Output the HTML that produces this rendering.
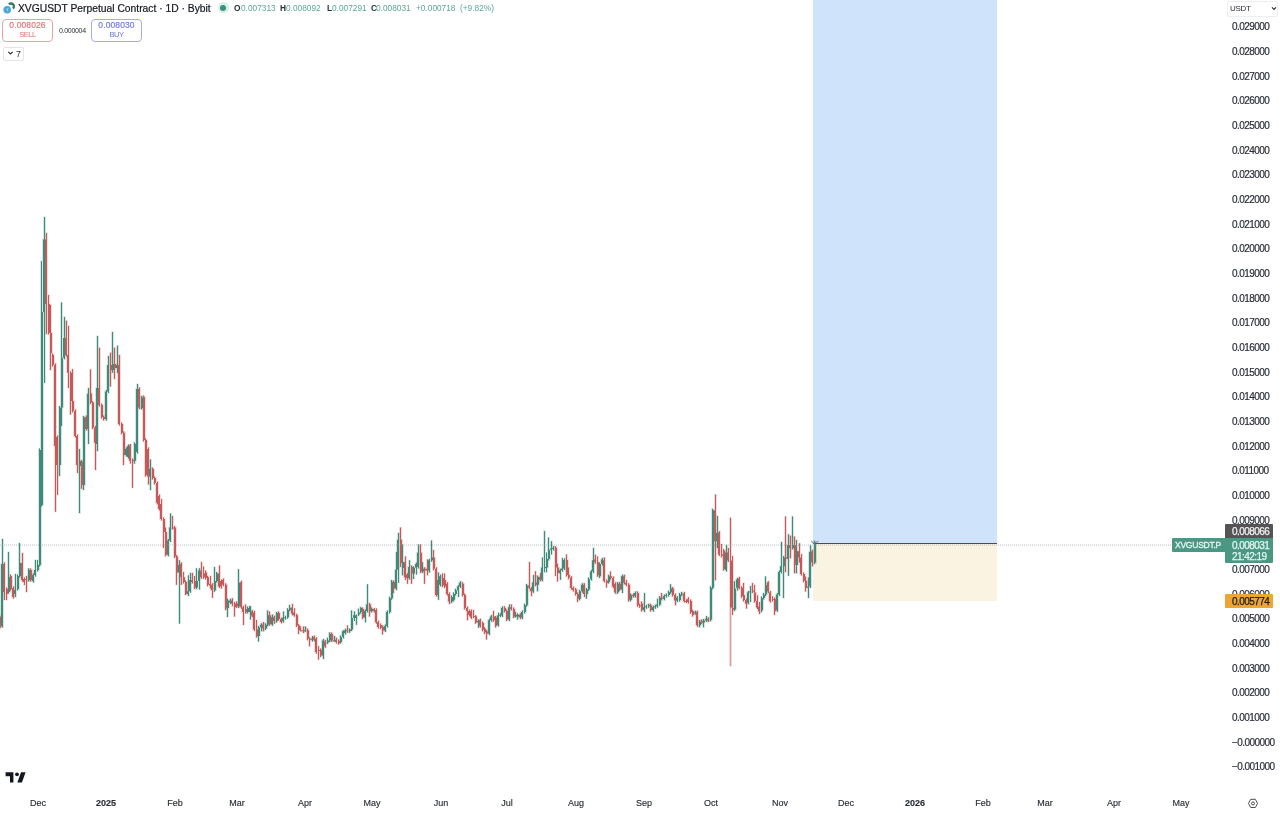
<!DOCTYPE html><html><head><meta charset="utf-8"><style>
*{margin:0;padding:0;box-sizing:border-box}
html,body{width:1280px;height:813px;overflow:hidden;background:#fff}
body{font-family:"Liberation Sans",sans-serif;position:relative;color:#131722}
.a{position:absolute;white-space:nowrap;will-change:transform}
.pl{position:absolute;will-change:transform;left:1231.5px;font-size:10px;letter-spacing:-0.55px;color:#2a2e39;line-height:10px;-webkit-text-stroke:0.2px #2a2e39}
.tl{position:absolute;will-change:transform;top:797.5px;font-size:9px;color:#2a2e39;line-height:10px;transform:translateX(-50%);-webkit-text-stroke:0.15px #2a2e39}
svg{position:absolute;left:0;top:0}
.cs{}
</style></head><body>
<div class="a" style="left:813px;top:0;width:184px;height:543px;background:#cfe3fa"></div>
<div class="a" style="left:813px;top:543px;width:184px;height:58px;background:#fbf3e2"></div>
<div class="a" style="left:813px;top:543px;width:184px;height:1px;background:#4a4d57"></div>
<svg class="cs" width="1224" height="790" viewBox="0 0 1224 790"><path fill="#3f8a79" fill-opacity="0.22" d="M0 563.20h4v63.60h-4zM1 538.50h3v89.50h-3zM7 576.20h4v16.60h-4zM7 551.50h3v42.50h-3zM13 589.20h4v5.60h-4zM14 573.50h3v24.00h-3zM16 575.20h4v14.60h-4zM16 574.00h3v17.00h-3zM18 562.20h4v14.60h-4zM18 542.50h3v35.50h-3zM27 569.20h4v11.60h-4zM27 568.00h3v14.00h-3zM31 574.20h4v7.60h-4zM32 573.00h3v10.00h-3zM33 569.20h4v6.60h-4zM34 559.50h3v17.50h-3zM36 564.20h4v6.60h-4zM36 559.50h3v12.50h-3zM38 449.20h4v116.60h-4zM38 448.00h3v119.00h-3zM40 311.20h4v194.60h-4zM40 260.50h3v246.50h-3zM42 238.70h4v74.10h-4zM43 216.50h3v167.00h-3zM58 406.80h4v59.00h-4zM58 405.60h3v70.90h-3zM60 356.90h4v51.50h-4zM60 302.00h3v124.50h-3zM62 337.20h4v21.30h-4zM63 316.50h3v43.20h-3zM78 460.20h4v6.60h-4zM78 448.50h3v65.00h-3zM82 416.80h4v69.00h-4zM82 415.60h3v74.90h-3zM86 393.00h4v36.80h-4zM87 387.50h3v57.00h-3zM95 387.20h4v57.60h-4zM96 335.50h3v116.00h-3zM104 390.80h4v29.00h-4zM105 389.60h3v31.40h-3zM106 364.20h4v28.20h-4zM107 355.50h3v38.10h-3zM111 363.20h4v7.60h-4zM111 331.50h3v41.80h-3zM115 364.20h4v4.60h-4zM116 345.30h3v28.20h-3zM124 448.20h4v7.60h-4zM125 447.00h3v10.00h-3zM126 445.20h4v12.60h-4zM127 444.00h3v15.00h-3zM133 443.00h4v18.50h-4zM133 441.80h3v22.20h-3zM135 388.20h4v64.60h-4zM136 383.50h3v70.50h-3zM140 396.70h4v12.10h-4zM140 395.50h3v14.50h-3zM148 468.00h4v9.20h-4zM149 458.90h3v31.60h-3zM166 539.80h4v15.70h-4zM167 538.60h3v18.10h-3zM168 526.70h4v14.70h-4zM169 512.90h3v29.70h-3zM177 564.20h4v9.10h-4zM178 559.80h3v64.30h-3zM186 590.40h4v4.40h-4zM187 574.80h3v21.70h-3zM188 579.20h4v12.80h-4zM189 572.50h3v20.70h-3zM195 580.20h4v8.10h-4zM195 567.80h3v21.70h-3zM197 569.80h4v12.00h-4zM198 567.80h3v22.10h-3zM213 580.20h4v10.90h-4zM213 566.40h3v25.90h-3zM215 572.60h4v9.20h-4zM215 571.40h3v11.60h-3zM226 599.80h4v9.10h-4zM226 598.20h3v19.30h-3zM228 599.80h4v3.50h-4zM229 598.20h3v6.30h-3zM237 582.00h4v25.00h-4zM237 568.70h3v39.80h-3zM246 607.30h4v5.40h-4zM246 606.10h3v7.80h-3zM248 605.40h4v7.30h-4zM249 605.70h3v14.20h-3zM257 626.70h4v10.00h-4zM257 625.50h3v16.50h-3zM259 623.90h4v4.40h-4zM260 622.70h3v9.00h-3zM264 623.90h4v5.30h-4zM264 622.70h3v7.70h-3zM266 614.50h4v11.00h-4zM266 610.10h3v16.60h-3zM270 616.40h4v8.60h-4zM271 613.90h3v12.30h-3zM275 612.20h4v9.50h-4zM275 611.50h3v11.40h-3zM281 617.30h4v4.50h-4zM282 611.10h3v11.90h-3zM283 616.40h4v2.60h-4zM284 615.20h3v4.90h-3zM286 608.90h4v9.10h-4zM286 607.80h3v11.40h-3zM288 607.00h4v3.50h-4zM288 604.50h3v7.20h-3zM303 629.50h4v2.60h-4zM304 626.10h3v6.40h-3zM310 637.90h4v2.60h-4zM311 635.40h3v6.60h-3zM321 639.80h4v16.60h-4zM322 638.60h3v20.80h-3zM326 639.80h4v3.50h-4zM326 637.30h3v7.20h-3zM328 633.20h4v8.20h-4zM328 632.00h3v10.60h-3zM332 639.50h4v2.60h-4zM333 635.50h3v6.50h-3zM339 636.10h4v6.70h-4zM339 634.90h3v9.10h-3zM341 630.40h4v7.30h-4zM342 629.80h3v9.10h-3zM343 629.50h4v4.30h-4zM344 628.30h3v6.70h-3zM348 628.60h4v3.40h-4zM348 627.90h3v5.30h-3zM350 617.30h4v12.90h-4zM350 610.10h3v21.30h-3zM352 614.50h4v4.40h-4zM353 611.10h3v10.40h-3zM354 614.50h4v4.40h-4zM355 613.90h3v11.30h-3zM357 611.70h4v3.50h-4zM357 608.20h3v8.20h-3zM359 607.30h4v5.40h-4zM359 606.40h3v7.50h-3zM363 610.20h4v8.10h-4zM364 609.00h3v13.70h-3zM365 603.60h4v8.20h-4zM366 583.70h3v29.30h-3zM370 608.20h4v3.60h-4zM370 607.00h3v6.00h-3zM383 625.10h4v6.30h-4zM384 623.90h3v8.70h-3zM385 611.10h4v15.60h-4zM386 609.90h3v18.00h-3zM388 597.50h4v15.20h-4zM388 596.30h3v17.60h-3zM390 581.10h4v18.00h-4zM390 579.50h3v20.70h-3zM394 568.90h4v20.30h-4zM395 551.40h3v39.00h-3zM396 538.90h4v31.60h-4zM397 532.60h3v50.70h-3zM401 561.20h4v7.60h-4zM401 543.90h3v31.90h-3zM407 566.10h4v12.80h-4zM408 559.80h3v20.30h-3zM412 567.00h4v7.20h-4zM412 565.80h3v13.70h-3zM414 563.20h4v5.40h-4zM415 562.00h3v12.90h-3zM416 552.00h4v15.70h-4zM417 543.90h3v25.00h-3zM421 567.90h4v4.40h-4zM421 561.70h3v11.80h-3zM427 559.50h4v11.90h-4zM428 558.30h3v14.70h-3zM430 556.70h4v4.40h-4zM430 540.10h3v22.20h-3zM436 579.20h4v16.60h-4zM437 572.00h3v28.20h-3zM438 575.40h4v10.10h-4zM439 574.20h3v12.50h-3zM450 596.10h4v6.30h-4zM450 594.90h3v8.70h-3zM452 593.20h4v7.30h-4zM452 592.00h3v9.70h-3zM454 589.50h4v5.30h-4zM454 588.30h3v7.70h-3zM456 585.80h4v5.30h-4zM457 584.60h3v12.80h-3zM458 582.00h4v5.40h-4zM459 580.80h3v7.80h-3zM476 620.20h4v2.80h-4zM477 618.90h3v9.40h-3zM487 619.50h4v14.70h-4zM488 618.30h3v17.10h-3zM489 615.80h4v5.30h-4zM490 614.60h3v7.70h-3zM496 614.80h4v11.00h-4zM497 612.30h3v14.70h-3zM498 613.90h4v2.60h-4zM499 612.70h3v4.90h-3zM500 607.30h4v9.10h-4zM501 606.10h3v11.50h-3zM507 606.40h4v13.80h-4zM508 603.90h3v17.50h-3zM514 613.90h4v3.50h-4zM514 611.40h3v6.60h-3zM516 613.90h4v3.50h-4zM516 612.70h3v7.20h-3zM520 611.10h4v7.20h-4zM521 609.90h3v9.60h-3zM523 604.50h4v8.20h-4zM523 603.30h3v10.60h-3zM525 584.80h4v21.30h-4zM525 583.60h3v23.70h-3zM531 581.70h4v10.30h-4zM532 574.50h3v18.70h-3zM536 576.10h4v9.50h-4zM536 574.90h3v16.80h-3zM540 566.70h4v13.80h-4zM541 557.10h3v24.60h-3zM543 566.20h4v2.60h-4zM543 530.40h3v42.30h-3zM545 558.20h4v10.10h-4zM545 552.00h3v20.70h-3zM547 548.90h4v10.90h-4zM547 537.00h3v24.00h-3zM549 547.70h4v2.80h-4zM550 540.70h3v14.20h-3zM551 547.00h4v2.80h-4zM552 545.50h3v5.50h-3zM558 569.50h4v4.40h-4zM559 568.30h3v11.90h-3zM560 567.60h4v3.50h-4zM561 557.60h3v14.70h-3zM562 559.20h4v10.00h-4zM563 558.00h3v12.40h-3zM578 590.40h4v9.10h-4zM578 589.20h3v11.50h-3zM580 583.90h4v8.10h-4zM581 582.70h3v10.50h-3zM585 588.60h4v6.20h-4zM585 587.40h3v11.80h-3zM587 578.20h4v12.00h-4zM587 577.00h3v14.40h-3zM589 570.80h4v9.00h-4zM590 569.60h3v11.40h-3zM591 559.50h4v12.90h-4zM592 547.50h3v26.10h-3zM598 563.20h4v13.80h-4zM598 562.00h3v16.60h-3zM600 558.60h4v6.20h-4zM601 557.40h3v8.60h-3zM607 575.40h4v7.30h-4zM607 574.20h3v9.70h-3zM616 582.90h4v10.10h-4zM616 581.70h3v12.50h-3zM620 575.40h4v14.80h-4zM621 574.20h3v19.30h-3zM629 594.20h4v6.30h-4zM629 593.00h3v8.70h-3zM633 592.30h4v4.40h-4zM634 591.10h3v6.80h-3zM642 606.40h4v4.40h-4zM643 592.60h3v19.80h-3zM644 605.40h4v2.60h-4zM645 604.20h3v5.00h-3zM647 604.50h4v2.60h-4zM647 603.30h3v4.90h-3zM651 606.40h4v4.40h-4zM652 605.20h3v6.80h-3zM653 605.40h4v2.60h-4zM654 604.20h3v5.00h-3zM655 603.60h4v3.40h-4zM656 598.20h3v10.00h-3zM658 597.00h4v8.20h-4zM658 595.80h3v10.60h-3zM662 595.10h4v4.40h-4zM663 593.90h3v6.80h-3zM664 594.20h4v2.60h-4zM665 593.00h3v4.90h-3zM667 591.40h4v4.40h-4zM667 590.20h3v6.80h-3zM669 587.60h4v5.40h-4zM669 583.70h3v10.50h-3zM675 597.00h4v4.40h-4zM676 595.80h3v6.80h-3zM678 593.60h4v7.20h-4zM678 592.40h3v9.60h-3zM680 592.60h4v2.60h-4zM680 591.40h3v5.00h-3zM693 611.40h4v2.60h-4zM694 610.20h3v4.90h-3zM698 620.70h4v5.40h-4zM698 619.50h3v8.20h-3zM702 619.80h4v3.50h-4zM702 618.60h3v9.10h-3zM704 617.90h4v3.50h-4zM705 615.50h3v7.10h-3zM709 587.00h4v33.50h-4zM709 585.80h3v35.90h-3zM711 509.50h4v79.10h-4zM711 508.30h3v81.50h-3zM715 532.00h4v10.00h-4zM716 515.50h3v33.00h-3zM724 551.70h4v19.10h-4zM725 544.50h3v27.50h-3zM733 587.90h4v22.30h-4zM733 580.70h3v30.70h-3zM735 578.60h4v10.00h-4zM736 577.40h3v13.70h-3zM746 591.70h4v11.90h-4zM747 590.50h3v14.30h-3zM748 590.80h4v2.60h-4zM749 585.40h3v17.00h-3zM760 597.30h4v13.80h-4zM760 596.10h3v16.60h-3zM762 593.60h4v5.30h-4zM762 592.40h3v7.70h-3zM764 584.20h4v11.00h-4zM764 576.10h3v20.30h-3zM775 593.60h4v17.50h-4zM776 592.40h3v19.90h-3zM777 571.10h4v24.10h-4zM778 569.90h3v26.50h-3zM779 565.40h4v7.30h-4zM780 541.50h3v32.40h-3zM782 556.70h4v10.30h-4zM782 555.50h3v43.10h-3zM786 544.20h4v15.40h-4zM787 533.70h3v42.50h-3zM791 544.20h4v4.70h-4zM791 516.10h3v34.00h-3zM795 550.50h4v15.30h-4zM795 539.50h3v34.20h-3zM806 585.60h4v2.90h-4zM807 577.10h3v21.40h-3zM808 551.10h4v36.10h-4zM809 544.70h3v43.70h-3zM813 543.10h4v20.30h-4zM813 540.30h3v24.30h-3z"/><path fill="#c65a5a" fill-opacity="0.22" d="M-2 615.80h4v12.70h-4zM-2 614.60h3v14.90h-3zM2 563.20h4v29.60h-4zM3 562.00h3v38.50h-3zM5 588.20h4v6.60h-4zM5 587.00h3v13.50h-3zM9 575.20h4v14.60h-4zM9 574.00h3v17.00h-3zM11 587.20h4v10.60h-4zM12 586.00h3v13.00h-3zM20 562.20h4v18.60h-4zM21 552.50h3v29.50h-3zM22 578.20h4v4.60h-4zM23 577.00h3v8.50h-3zM24 578.20h4v2.60h-4zM25 575.50h3v17.00h-3zM29 569.20h4v11.60h-4zM29 568.00h3v14.00h-3zM44 238.70h4v66.10h-4zM45 232.50h3v102.00h-3zM47 303.20h4v30.60h-4zM47 294.50h3v40.50h-3zM49 332.20h4v21.60h-4zM49 304.50h3v66.00h-3zM51 354.20h4v11.60h-4zM51 353.00h3v14.00h-3zM53 364.20h4v82.60h-4zM54 363.00h3v149.20h-3zM55 436.20h4v29.60h-4zM56 435.00h3v60.50h-3zM64 337.20h4v18.60h-4zM65 320.20h3v36.80h-3zM66 354.20h4v19.40h-4zM67 325.50h3v63.00h-3zM69 372.00h4v29.80h-4zM69 370.80h3v44.20h-3zM71 400.20h4v11.60h-4zM71 368.50h3v44.50h-3zM73 410.20h4v26.60h-4zM74 409.00h3v29.00h-3zM75 435.20h4v30.60h-4zM76 434.00h3v39.50h-3zM80 460.70h4v25.10h-4zM80 459.50h3v29.70h-3zM84 416.20h4v13.60h-4zM85 415.00h3v16.00h-3zM89 392.70h4v10.60h-4zM89 369.10h3v35.40h-3zM91 401.70h4v26.70h-4zM91 400.50h3v29.10h-3zM93 426.80h4v16.70h-4zM94 425.60h3v44.90h-3zM97 387.20h4v18.60h-4zM98 347.20h3v59.80h-3zM100 404.20h4v13.60h-4zM100 403.00h3v16.00h-3zM102 416.20h4v3.60h-4zM102 415.00h3v6.00h-3zM109 364.20h4v6.60h-4zM109 352.20h3v34.90h-3zM113 363.20h4v5.60h-4zM113 347.20h3v32.30h-3zM117 364.20h4v60.60h-4zM118 354.50h3v71.50h-3zM120 423.20h4v10.30h-4zM120 422.00h3v12.70h-3zM122 431.90h4v23.90h-4zM122 430.70h3v34.80h-3zM128 444.80h4v16.70h-4zM129 443.60h3v20.40h-3zM131 459.20h4v2.60h-4zM131 458.00h3v30.20h-3zM137 388.20h4v20.20h-4zM138 387.00h3v22.60h-3zM142 396.20h4v44.60h-4zM142 395.00h3v47.00h-3zM144 439.20h4v36.60h-4zM144 438.00h3v39.00h-3zM146 448.20h4v29.00h-4zM147 447.00h3v38.00h-3zM151 468.20h4v10.60h-4zM151 467.00h3v13.00h-3zM153 477.20h4v6.60h-4zM153 476.00h3v9.00h-3zM155 482.20h4v21.40h-4zM156 481.00h3v23.80h-3zM157 495.20h4v14.60h-4zM158 494.00h3v17.00h-3zM159 503.20h4v16.60h-4zM160 498.50h3v22.50h-3zM162 518.20h4v14.60h-4zM162 517.00h3v31.50h-3zM164 531.20h4v24.30h-4zM164 527.00h3v29.70h-3zM171 526.70h4v2.60h-4zM171 515.50h3v14.50h-3zM173 526.70h4v30.70h-4zM173 525.50h3v33.10h-3zM175 555.80h4v17.50h-4zM175 554.60h3v30.60h-3zM179 563.20h4v14.80h-4zM180 562.00h3v23.20h-3zM182 576.40h4v6.40h-4zM182 571.50h3v12.50h-3zM184 581.20h4v13.60h-4zM184 580.00h3v15.50h-3zM190 579.20h4v3.60h-4zM191 572.50h3v11.50h-3zM193 580.20h4v8.10h-4zM193 575.50h3v14.00h-3zM199 569.80h4v8.20h-4zM200 561.50h3v17.70h-3zM202 572.60h4v5.40h-4zM202 565.90h3v13.30h-3zM204 571.70h4v7.10h-4zM204 570.10h3v9.90h-3zM206 576.40h4v9.10h-4zM206 575.20h3v11.50h-3zM208 582.90h4v3.50h-4zM209 575.50h3v13.50h-3zM210 583.90h4v7.20h-4zM211 582.70h3v15.60h-3zM217 572.60h4v14.70h-4zM218 565.00h3v23.50h-3zM219 580.20h4v7.10h-4zM220 579.00h3v10.00h-3zM221 579.20h4v6.30h-4zM222 578.00h3v8.70h-3zM224 583.90h4v25.50h-4zM224 582.70h3v27.90h-3zM230 599.80h4v4.40h-4zM231 597.80h3v8.90h-3zM233 602.60h4v5.40h-4zM233 601.40h3v15.60h-3zM235 602.60h4v4.40h-4zM235 601.00h3v7.20h-3zM239 581.50h4v26.50h-4zM240 580.30h3v28.90h-3zM241 606.40h4v6.30h-4zM242 605.20h3v20.30h-3zM244 608.20h4v4.50h-4zM244 603.90h3v10.00h-3zM250 610.60h4v5.80h-4zM251 609.40h3v8.20h-3zM252 611.70h4v18.50h-4zM253 610.50h3v20.90h-3zM255 628.60h4v8.10h-4zM255 619.50h3v18.40h-3zM261 623.90h4v5.30h-4zM262 621.40h3v10.30h-3zM268 614.50h4v10.50h-4zM268 611.10h3v15.10h-3zM272 616.40h4v5.30h-4zM273 615.20h3v9.00h-3zM277 612.20h4v7.60h-4zM277 611.00h3v10.00h-3zM279 618.20h4v4.50h-4zM280 617.00h3v6.80h-3zM290 607.00h4v7.20h-4zM291 603.50h3v12.30h-3zM292 611.70h4v4.40h-4zM293 607.80h3v9.50h-3zM295 614.50h4v11.90h-4zM295 613.30h3v14.30h-3zM297 624.80h4v6.30h-4zM297 623.60h3v10.90h-3zM299 629.50h4v2.60h-4zM299 626.10h3v5.60h-3zM301 629.50h4v2.60h-4zM302 626.10h3v7.50h-3zM306 629.50h4v10.00h-4zM306 627.90h3v12.80h-3zM308 637.90h4v2.60h-4zM308 636.70h3v10.00h-3zM312 636.10h4v4.40h-4zM313 634.90h3v6.80h-3zM314 637.90h4v14.80h-4zM315 636.70h3v17.50h-3zM317 649.20h4v2.60h-4zM317 645.70h3v14.20h-3zM319 649.20h4v7.20h-4zM319 648.00h3v9.60h-3zM323 640.70h4v6.30h-4zM324 639.50h3v8.70h-3zM330 633.20h4v8.20h-4zM330 632.00h3v10.60h-3zM334 638.90h4v3.90h-4zM335 637.30h3v6.70h-3zM337 640.20h4v3.60h-4zM337 639.00h3v6.00h-3zM345 629.50h4v2.60h-4zM346 625.10h3v8.10h-3zM361 608.20h4v10.10h-4zM361 607.00h3v12.50h-3zM368 603.60h4v8.20h-4zM368 602.40h3v14.60h-3zM372 608.20h4v3.60h-4zM373 607.50h3v5.50h-3zM374 609.20h4v13.80h-4zM375 608.00h3v16.20h-3zM376 621.40h4v6.30h-4zM377 620.20h3v8.70h-3zM379 624.20h4v4.40h-4zM379 623.00h3v6.80h-3zM381 626.10h4v5.30h-4zM381 624.90h3v10.00h-3zM392 581.10h4v8.10h-4zM392 579.90h3v13.60h-3zM399 538.90h4v25.00h-4zM399 527.00h3v40.40h-3zM403 561.40h4v16.60h-4zM404 556.10h3v24.40h-3zM405 573.60h4v5.30h-4zM406 572.40h3v11.80h-3zM410 566.10h4v8.10h-4zM410 564.90h3v19.30h-3zM419 552.00h4v20.30h-4zM419 543.90h3v29.60h-3zM423 567.90h4v3.50h-4zM423 566.70h3v17.50h-3zM425 567.90h4v3.50h-4zM426 558.90h3v16.90h-3zM432 556.70h4v12.80h-4zM432 549.50h3v21.20h-3zM434 567.90h4v27.90h-4zM435 566.70h3v30.30h-3zM441 577.30h4v9.10h-4zM441 572.90h3v14.70h-3zM443 579.20h4v8.10h-4zM443 572.90h3v15.60h-3zM445 582.90h4v11.90h-4zM446 581.70h3v14.30h-3zM447 593.20h4v9.20h-4zM448 592.00h3v12.50h-3zM461 582.90h4v12.90h-4zM461 581.70h3v15.30h-3zM463 594.20h4v14.70h-4zM463 593.00h3v17.10h-3zM465 607.30h4v4.50h-4zM466 606.10h3v14.70h-3zM467 610.20h4v5.30h-4zM468 609.00h3v7.70h-3zM469 610.20h4v8.10h-4zM470 609.00h3v10.50h-3zM472 615.20h4v2.60h-4zM472 609.50h3v9.00h-3zM474 615.80h4v7.20h-4zM474 614.60h3v9.60h-3zM478 619.50h4v7.30h-4zM479 618.30h3v9.70h-3zM481 622.30h4v8.20h-4zM481 621.10h3v10.60h-3zM483 627.90h4v5.40h-4zM483 626.70h3v7.80h-3zM485 630.70h4v3.50h-4zM485 629.50h3v10.50h-3zM492 615.80h4v5.30h-4zM492 610.50h3v11.80h-3zM494 616.70h4v10.10h-4zM494 615.50h3v12.50h-3zM503 607.30h4v4.50h-4zM503 605.70h3v7.30h-3zM505 610.20h4v10.00h-4zM505 609.00h3v12.40h-3zM509 606.40h4v3.40h-4zM510 603.90h3v7.10h-3zM512 608.20h4v9.20h-4zM512 607.00h3v11.60h-3zM518 613.90h4v4.40h-4zM519 612.70h3v6.80h-3zM527 584.80h4v3.50h-4zM528 561.40h3v28.10h-3zM529 587.60h4v4.40h-4zM530 586.40h3v10.10h-3zM534 581.70h4v3.90h-4zM534 570.70h3v16.10h-3zM538 576.10h4v4.40h-4zM539 572.50h3v9.20h-3zM554 547.00h4v21.30h-4zM554 545.80h3v30.70h-3zM556 566.70h4v7.20h-4zM556 563.20h3v18.80h-3zM565 559.20h4v16.60h-4zM565 553.90h3v23.10h-3zM567 574.20h4v4.40h-4zM567 567.00h3v12.80h-3zM569 577.00h4v11.90h-4zM570 575.80h3v14.30h-3zM571 587.30h4v3.50h-4zM572 586.10h3v5.90h-3zM574 588.60h4v6.20h-4zM574 587.40h3v8.60h-3zM576 593.20h4v6.30h-4zM576 592.00h3v10.50h-3zM582 583.90h4v10.90h-4zM583 582.70h3v14.70h-3zM593 558.60h4v4.40h-4zM594 554.20h3v10.00h-3zM596 561.40h4v14.70h-4zM596 556.10h3v21.20h-3zM602 559.50h4v22.30h-4zM603 557.00h3v26.00h-3zM605 580.20h4v3.40h-4zM605 579.00h3v9.00h-3zM609 575.40h4v3.50h-4zM609 571.10h3v9.00h-3zM611 577.30h4v10.10h-4zM612 576.10h3v12.50h-3zM613 582.90h4v10.10h-4zM614 581.70h3v12.50h-3zM618 582.90h4v7.30h-4zM618 581.40h3v10.00h-3zM622 575.40h4v8.20h-4zM623 574.20h3v10.60h-3zM624 582.00h4v3.50h-4zM625 579.50h3v7.20h-3zM627 583.90h4v16.60h-4zM627 582.70h3v19.30h-3zM631 594.20h4v2.60h-4zM632 593.00h3v4.90h-3zM636 592.30h4v13.80h-4zM636 591.10h3v16.20h-3zM638 604.50h4v2.60h-4zM638 603.30h3v4.90h-3zM640 602.60h4v8.20h-4zM640 601.00h3v11.00h-3zM649 604.50h4v6.30h-4zM649 603.30h3v8.70h-3zM660 597.00h4v2.60h-4zM660 592.60h3v8.10h-3zM671 587.60h4v8.20h-4zM671 586.40h3v10.60h-3zM673 594.20h4v7.20h-4zM674 593.00h3v12.80h-3zM682 592.60h4v9.10h-4zM683 591.40h3v11.50h-3zM684 600.10h4v2.60h-4zM685 598.90h3v4.50h-3zM686 598.20h4v4.50h-4zM687 596.70h3v7.20h-3zM689 600.20h4v12.80h-4zM689 599.00h3v15.20h-3zM691 610.40h4v5.40h-4zM691 609.20h3v7.80h-3zM695 611.40h4v14.70h-4zM696 610.20h3v17.10h-3zM700 620.20h4v3.10h-4zM700 619.00h3v5.50h-3zM706 617.90h4v3.50h-4zM707 616.70h3v5.90h-3zM713 509.50h4v32.50h-4zM714 493.90h3v86.90h-3zM717 532.00h4v23.20h-4zM718 530.80h3v25.60h-3zM720 553.60h4v3.20h-4zM720 543.50h3v14.50h-3zM722 549.80h4v20.00h-4zM722 548.60h3v22.40h-3zM726 551.70h4v9.70h-4zM727 547.50h3v15.10h-3zM729 559.80h4v48.50h-4zM729 517.30h3v149.10h-3zM731 607.20h4v3.00h-4zM731 555.50h3v60.00h-3zM737 577.60h4v11.00h-4zM738 576.40h3v13.40h-3zM740 587.00h4v10.00h-4zM740 585.80h3v12.40h-3zM742 594.50h4v6.30h-4zM742 582.60h3v19.40h-3zM744 599.20h4v5.30h-4zM745 598.00h3v10.90h-3zM751 589.80h4v2.60h-4zM751 582.60h3v11.00h-3zM753 591.70h4v10.00h-4zM753 584.50h3v18.40h-3zM755 600.10h4v8.20h-4zM756 594.80h3v14.70h-3zM757 605.70h4v6.30h-4zM758 601.40h3v13.10h-3zM766 581.40h4v11.00h-4zM767 580.70h3v12.90h-3zM768 591.70h4v10.00h-4zM769 590.50h3v12.40h-3zM771 598.20h4v2.60h-4zM771 595.70h3v6.30h-3zM773 598.20h4v13.80h-4zM773 597.00h3v18.50h-3zM784 556.70h4v2.90h-4zM784 516.10h3v56.40h-3zM788 544.20h4v4.70h-4zM789 535.20h3v23.50h-3zM793 544.20h4v21.60h-4zM793 535.90h3v37.80h-3zM797 550.50h4v7.80h-4zM798 542.80h3v20.30h-3zM799 556.70h4v18.00h-4zM800 553.50h3v22.40h-3zM802 573.10h4v8.50h-4zM802 571.90h3v10.90h-3zM804 580.00h4v8.50h-4zM804 575.90h3v16.00h-3zM810 550.50h4v12.90h-4zM811 549.30h3v17.50h-3z"/><path fill="#3f8a79" d="M2 539.00h1v88.50h-1zM8 552.00h1v41.50h-1zM15 574.00h1v23.00h-1zM17 574.50h1v16.00h-1zM19 543.00h1v34.50h-1zM28 568.50h1v13.00h-1zM33 573.50h1v9.00h-1zM35 560.00h1v16.50h-1zM37 560.00h1v11.50h-1zM39 448.50h1v118.00h-1zM41 261.00h1v245.50h-1zM44 217.00h1v166.00h-1zM59 406.10h1v69.90h-1zM61 302.50h1v123.50h-1zM64 317.00h1v42.20h-1zM79 449.00h1v64.00h-1zM83 416.10h1v73.90h-1zM88 388.00h1v56.00h-1zM97 336.00h1v115.00h-1zM106 390.10h1v30.40h-1zM108 356.00h1v37.10h-1zM112 332.00h1v40.80h-1zM117 345.80h1v27.20h-1zM126 447.50h1v9.00h-1zM128 444.50h1v14.00h-1zM134 442.30h1v21.20h-1zM137 384.00h1v69.50h-1zM141 396.00h1v13.50h-1zM150 459.40h1v30.60h-1zM168 539.10h1v17.10h-1zM170 513.40h1v28.70h-1zM179 560.30h1v63.30h-1zM188 575.30h1v20.70h-1zM190 573.00h1v19.70h-1zM196 568.30h1v20.70h-1zM199 568.30h1v21.10h-1zM214 566.90h1v24.90h-1zM216 571.90h1v10.60h-1zM227 598.70h1v18.30h-1zM230 598.70h1v5.30h-1zM238 569.20h1v38.80h-1zM247 606.60h1v6.80h-1zM250 606.20h1v13.20h-1zM258 626.00h1v15.50h-1zM261 623.20h1v8.00h-1zM265 623.20h1v6.70h-1zM267 610.60h1v15.60h-1zM272 614.40h1v11.30h-1zM276 612.00h1v10.40h-1zM283 611.60h1v10.90h-1zM285 615.70h1v3.90h-1zM287 608.30h1v10.40h-1zM289 605.00h1v6.20h-1zM305 626.60h1v5.40h-1zM312 635.90h1v5.60h-1zM323 639.10h1v19.80h-1zM327 637.80h1v6.20h-1zM329 632.50h1v9.60h-1zM334 636.00h1v5.50h-1zM340 635.40h1v8.10h-1zM343 630.30h1v8.10h-1zM345 628.80h1v5.70h-1zM349 628.40h1v4.30h-1zM351 610.60h1v20.30h-1zM354 611.60h1v9.40h-1zM356 614.40h1v10.30h-1zM358 608.70h1v7.20h-1zM360 606.90h1v6.50h-1zM365 609.50h1v12.70h-1zM367 584.20h1v28.30h-1zM371 607.50h1v5.00h-1zM385 624.40h1v7.70h-1zM387 610.40h1v17.00h-1zM389 596.80h1v16.60h-1zM391 580.00h1v19.70h-1zM396 551.90h1v38.00h-1zM398 533.10h1v49.70h-1zM402 544.40h1v30.90h-1zM409 560.30h1v19.30h-1zM413 566.30h1v12.70h-1zM416 562.50h1v11.90h-1zM418 544.40h1v24.00h-1zM422 562.20h1v10.80h-1zM429 558.80h1v13.70h-1zM431 540.60h1v21.20h-1zM438 572.50h1v27.20h-1zM440 574.70h1v11.50h-1zM451 595.40h1v7.70h-1zM453 592.50h1v8.70h-1zM455 588.80h1v6.70h-1zM458 585.10h1v11.80h-1zM460 581.30h1v6.80h-1zM478 619.40h1v8.40h-1zM489 618.80h1v16.10h-1zM491 615.10h1v6.70h-1zM498 612.80h1v13.70h-1zM500 613.20h1v3.90h-1zM502 606.60h1v10.50h-1zM509 604.40h1v16.50h-1zM515 611.90h1v5.60h-1zM517 613.20h1v6.20h-1zM522 610.40h1v8.60h-1zM524 603.80h1v9.60h-1zM526 584.10h1v22.70h-1zM533 575.00h1v17.70h-1zM537 575.40h1v15.80h-1zM542 557.60h1v23.60h-1zM544 530.90h1v41.30h-1zM546 552.50h1v19.70h-1zM548 537.50h1v23.00h-1zM551 541.20h1v13.20h-1zM553 546.00h1v4.50h-1zM560 568.80h1v10.90h-1zM562 558.10h1v13.70h-1zM564 558.50h1v11.40h-1zM579 589.70h1v10.50h-1zM582 583.20h1v9.50h-1zM586 587.90h1v10.80h-1zM588 577.50h1v13.40h-1zM591 570.10h1v10.40h-1zM593 548.00h1v25.10h-1zM599 562.50h1v15.60h-1zM602 557.90h1v7.60h-1zM608 574.70h1v8.70h-1zM617 582.20h1v11.50h-1zM622 574.70h1v18.30h-1zM630 593.50h1v7.70h-1zM635 591.60h1v5.80h-1zM644 593.10h1v18.80h-1zM646 604.70h1v4.00h-1zM648 603.80h1v3.90h-1zM653 605.70h1v5.80h-1zM655 604.70h1v4.00h-1zM657 598.70h1v9.00h-1zM659 596.30h1v9.60h-1zM664 594.40h1v5.80h-1zM666 593.50h1v3.90h-1zM668 590.70h1v5.80h-1zM670 584.20h1v9.50h-1zM677 596.30h1v5.80h-1zM679 592.90h1v8.60h-1zM681 591.90h1v4.00h-1zM695 610.70h1v3.90h-1zM699 620.00h1v7.20h-1zM703 619.10h1v8.10h-1zM706 616.00h1v6.10h-1zM710 586.30h1v34.90h-1zM712 508.80h1v80.50h-1zM717 516.00h1v32.00h-1zM726 545.00h1v26.50h-1zM734 581.20h1v29.70h-1zM737 577.90h1v12.70h-1zM748 591.00h1v13.30h-1zM750 585.90h1v16.00h-1zM761 596.60h1v15.60h-1zM763 592.90h1v6.70h-1zM765 576.60h1v19.30h-1zM777 592.90h1v18.90h-1zM779 570.40h1v25.50h-1zM781 542.00h1v31.40h-1zM783 556.00h1v42.10h-1zM788 534.20h1v41.50h-1zM792 516.60h1v33.00h-1zM796 540.00h1v33.20h-1zM808 577.60h1v20.40h-1zM810 545.20h1v42.70h-1zM814 540.80h1v23.30h-1z"/><path fill="#e09a9a" d="M730 607.50h1v58.40h-1z"/><path fill="#c65a5a" d="M-1 615.10h1v13.90h-1zM4 562.50h1v37.50h-1zM6 587.50h1v12.50h-1zM10 574.50h1v16.00h-1zM13 586.50h1v12.00h-1zM22 553.00h1v28.50h-1zM24 577.50h1v7.50h-1zM26 576.00h1v16.00h-1zM30 568.50h1v13.00h-1zM46 233.00h1v101.00h-1zM48 295.00h1v39.50h-1zM50 305.00h1v65.00h-1zM52 353.50h1v13.00h-1zM55 363.50h1v148.20h-1zM57 435.50h1v59.50h-1zM66 320.70h1v35.80h-1zM68 326.00h1v62.00h-1zM70 371.30h1v43.20h-1zM72 369.00h1v43.50h-1zM75 409.50h1v28.00h-1zM77 434.50h1v38.50h-1zM81 460.00h1v28.70h-1zM86 415.50h1v15.00h-1zM90 369.60h1v34.40h-1zM92 401.00h1v28.10h-1zM95 426.10h1v43.90h-1zM99 347.70h1v58.80h-1zM101 403.50h1v15.00h-1zM103 415.50h1v5.00h-1zM110 352.70h1v33.90h-1zM114 347.70h1v31.30h-1zM119 355.00h1v70.50h-1zM121 422.50h1v11.70h-1zM123 431.20h1v33.80h-1zM130 444.10h1v19.40h-1zM132 458.50h1v29.20h-1zM139 387.50h1v21.60h-1zM143 395.50h1v46.00h-1zM145 438.50h1v38.00h-1zM148 447.50h1v37.00h-1zM152 467.50h1v12.00h-1zM154 476.50h1v8.00h-1zM157 481.50h1v22.80h-1zM159 494.50h1v16.00h-1zM161 499.00h1v21.50h-1zM163 517.50h1v30.50h-1zM165 527.50h1v28.70h-1zM172 516.00h1v13.50h-1zM174 526.00h1v32.10h-1zM176 555.10h1v29.60h-1zM181 562.50h1v22.20h-1zM183 572.00h1v11.50h-1zM185 580.50h1v14.50h-1zM192 573.00h1v10.50h-1zM194 576.00h1v13.00h-1zM201 562.00h1v16.70h-1zM203 566.40h1v12.30h-1zM205 570.60h1v8.90h-1zM207 575.70h1v10.50h-1zM210 576.00h1v12.50h-1zM212 583.20h1v14.60h-1zM219 565.50h1v22.50h-1zM221 579.50h1v9.00h-1zM223 578.50h1v7.70h-1zM225 583.20h1v26.90h-1zM232 598.30h1v7.90h-1zM234 601.90h1v14.60h-1zM236 601.50h1v6.20h-1zM241 580.80h1v27.90h-1zM243 605.70h1v19.30h-1zM245 604.40h1v9.00h-1zM252 609.90h1v7.20h-1zM254 611.00h1v19.90h-1zM256 620.00h1v17.40h-1zM263 621.90h1v9.30h-1zM269 611.60h1v14.10h-1zM274 615.70h1v8.00h-1zM278 611.50h1v9.00h-1zM281 617.50h1v5.80h-1zM292 604.00h1v11.30h-1zM294 608.30h1v8.50h-1zM296 613.80h1v13.30h-1zM298 624.10h1v9.90h-1zM300 626.60h1v4.60h-1zM303 626.60h1v6.50h-1zM307 628.40h1v11.80h-1zM309 637.20h1v9.00h-1zM314 635.40h1v5.80h-1zM316 637.20h1v16.50h-1zM318 646.20h1v13.20h-1zM320 648.50h1v8.60h-1zM325 640.00h1v7.70h-1zM331 632.50h1v9.60h-1zM336 637.80h1v5.70h-1zM338 639.50h1v5.00h-1zM347 625.60h1v7.10h-1zM362 607.50h1v11.50h-1zM369 602.90h1v13.60h-1zM374 608.00h1v4.50h-1zM376 608.50h1v15.20h-1zM378 620.70h1v7.70h-1zM380 623.50h1v5.80h-1zM382 625.40h1v9.00h-1zM393 580.40h1v12.60h-1zM400 527.50h1v39.40h-1zM405 556.60h1v23.40h-1zM407 572.90h1v10.80h-1zM411 565.40h1v18.30h-1zM420 544.40h1v28.60h-1zM424 567.20h1v16.50h-1zM427 559.40h1v15.90h-1zM433 550.00h1v20.20h-1zM436 567.20h1v29.30h-1zM442 573.40h1v13.70h-1zM444 573.40h1v14.60h-1zM447 582.20h1v13.30h-1zM449 592.50h1v11.50h-1zM462 582.20h1v14.30h-1zM464 593.50h1v16.10h-1zM467 606.60h1v13.70h-1zM469 609.50h1v6.70h-1zM471 609.50h1v9.50h-1zM473 610.00h1v8.00h-1zM475 615.10h1v8.60h-1zM480 618.80h1v8.70h-1zM482 621.60h1v9.60h-1zM484 627.20h1v6.80h-1zM486 630.00h1v9.50h-1zM493 611.00h1v10.80h-1zM495 616.00h1v11.50h-1zM504 606.20h1v6.30h-1zM506 609.50h1v11.40h-1zM511 604.40h1v6.10h-1zM513 607.50h1v10.60h-1zM520 613.20h1v5.80h-1zM529 561.90h1v27.10h-1zM531 586.90h1v9.10h-1zM535 571.20h1v15.10h-1zM540 573.00h1v8.20h-1zM555 546.30h1v29.70h-1zM557 563.70h1v17.80h-1zM566 554.40h1v22.10h-1zM568 567.50h1v11.80h-1zM571 576.30h1v13.30h-1zM573 586.60h1v4.90h-1zM575 587.90h1v7.60h-1zM577 592.50h1v9.50h-1zM584 583.20h1v13.70h-1zM595 554.70h1v9.00h-1zM597 556.60h1v20.20h-1zM604 557.50h1v25.00h-1zM606 579.50h1v8.00h-1zM610 571.60h1v8.00h-1zM613 576.60h1v11.50h-1zM615 582.20h1v11.50h-1zM619 581.90h1v9.00h-1zM624 574.70h1v9.60h-1zM626 580.00h1v6.20h-1zM628 583.20h1v18.30h-1zM633 593.50h1v3.90h-1zM637 591.60h1v15.20h-1zM639 603.80h1v3.90h-1zM641 601.50h1v10.00h-1zM650 603.80h1v7.70h-1zM661 593.10h1v7.10h-1zM672 586.90h1v9.60h-1zM675 593.50h1v11.80h-1zM684 591.90h1v10.50h-1zM686 599.40h1v3.50h-1zM688 597.20h1v6.20h-1zM690 599.50h1v14.20h-1zM692 609.70h1v6.80h-1zM697 610.70h1v16.10h-1zM701 619.50h1v4.50h-1zM708 617.20h1v4.90h-1zM715 494.40h1v85.90h-1zM719 531.30h1v24.60h-1zM721 544.00h1v13.50h-1zM723 549.10h1v21.40h-1zM728 548.00h1v14.10h-1zM730 517.80h1v89.70h-1zM732 556.00h1v59.00h-1zM739 576.90h1v12.40h-1zM741 586.30h1v11.40h-1zM743 583.10h1v18.40h-1zM746 598.50h1v9.90h-1zM752 583.10h1v10.00h-1zM754 585.00h1v17.40h-1zM757 595.30h1v13.70h-1zM759 601.90h1v12.10h-1zM768 581.20h1v11.90h-1zM770 591.00h1v11.40h-1zM772 596.20h1v5.30h-1zM774 597.50h1v17.50h-1zM785 516.60h1v55.40h-1zM790 535.70h1v22.50h-1zM794 536.40h1v36.80h-1zM799 543.30h1v19.30h-1zM801 554.00h1v21.40h-1zM803 572.40h1v9.90h-1zM805 576.40h1v15.00h-1zM812 549.80h1v16.50h-1z"/><path fill="#3f8a79" d="M1 564.00h2v62.00h-2zM8 577.00h2v15.00h-2zM14 590.00h2v4.00h-2zM17 576.00h2v13.00h-2zM19 563.00h2v13.00h-2zM28 570.00h2v10.00h-2zM32 575.00h2v6.00h-2zM34 570.00h2v5.00h-2zM37 565.00h2v5.00h-2zM39 450.00h2v115.00h-2zM41 312.00h2v193.00h-2zM43 239.50h2v72.50h-2zM59 407.60h2v57.40h-2zM61 357.70h2v49.90h-2zM63 338.00h2v19.70h-2zM79 461.00h2v5.00h-2zM83 417.60h2v67.40h-2zM87 393.80h2v35.20h-2zM96 388.00h2v56.00h-2zM105 391.60h2v27.40h-2zM107 365.00h2v26.60h-2zM112 364.00h2v6.00h-2zM116 365.00h2v3.00h-2zM125 449.00h2v6.00h-2zM127 446.00h2v11.00h-2zM134 443.80h2v16.90h-2zM136 389.00h2v63.00h-2zM141 397.50h2v10.50h-2zM149 468.80h2v7.60h-2zM167 540.60h2v14.10h-2zM169 527.50h2v13.10h-2zM178 565.00h2v7.50h-2zM187 591.20h2v2.80h-2zM189 580.00h2v11.20h-2zM196 581.00h2v6.50h-2zM198 570.60h2v10.40h-2zM214 581.00h2v9.30h-2zM216 573.40h2v7.60h-2zM227 600.60h2v7.50h-2zM229 600.60h2v1.90h-2zM238 582.80h2v23.40h-2zM247 608.10h2v3.80h-2zM249 606.20h2v5.70h-2zM258 627.50h2v8.40h-2zM260 624.70h2v2.80h-2zM265 624.70h2v3.70h-2zM267 615.30h2v9.40h-2zM271 617.20h2v7.00h-2zM276 613.00h2v7.90h-2zM282 618.10h2v2.90h-2zM284 617.20h2v1.00h-2zM287 609.70h2v7.50h-2zM289 607.80h2v1.90h-2zM304 630.30h2v1.00h-2zM311 638.70h2v1.00h-2zM322 640.60h2v15.00h-2zM327 640.60h2v1.90h-2zM329 634.00h2v6.60h-2zM333 640.30h2v1.00h-2zM340 636.90h2v5.10h-2zM342 631.20h2v5.70h-2zM344 630.30h2v2.70h-2zM349 629.40h2v1.80h-2zM351 618.10h2v11.30h-2zM353 615.30h2v2.80h-2zM355 615.30h2v2.80h-2zM358 612.50h2v1.90h-2zM360 608.10h2v3.80h-2zM364 611.00h2v6.50h-2zM366 604.40h2v6.60h-2zM371 609.00h2v2.00h-2zM384 625.90h2v4.70h-2zM386 611.90h2v14.00h-2zM389 598.30h2v13.60h-2zM391 581.90h2v16.40h-2zM395 569.70h2v18.70h-2zM397 539.70h2v30.00h-2zM402 562.00h2v6.00h-2zM408 566.90h2v11.20h-2zM413 567.80h2v5.60h-2zM415 564.00h2v3.80h-2zM417 552.80h2v14.10h-2zM422 568.70h2v2.80h-2zM428 560.30h2v10.30h-2zM431 557.50h2v2.80h-2zM437 580.00h2v15.00h-2zM439 576.20h2v8.50h-2zM451 596.90h2v4.70h-2zM453 594.00h2v5.70h-2zM455 590.30h2v3.70h-2zM457 586.60h2v3.70h-2zM459 582.80h2v3.80h-2zM477 621.00h2v1.20h-2zM488 620.30h2v13.10h-2zM490 616.60h2v3.70h-2zM497 615.60h2v9.40h-2zM499 614.70h2v1.00h-2zM501 608.10h2v7.50h-2zM508 607.20h2v12.20h-2zM515 614.70h2v1.90h-2zM517 614.70h2v1.90h-2zM521 611.90h2v5.60h-2zM524 605.30h2v6.60h-2zM526 585.60h2v19.70h-2zM532 582.50h2v8.70h-2zM537 576.90h2v7.90h-2zM541 567.50h2v12.20h-2zM544 567.00h2v1.00h-2zM546 559.00h2v8.50h-2zM548 549.70h2v9.30h-2zM550 548.50h2v1.20h-2zM552 547.80h2v1.20h-2zM559 570.30h2v2.80h-2zM561 568.40h2v1.90h-2zM563 560.00h2v8.40h-2zM579 591.20h2v7.50h-2zM581 584.70h2v6.50h-2zM586 589.40h2v4.60h-2zM588 579.00h2v10.40h-2zM590 571.60h2v7.40h-2zM592 560.30h2v11.30h-2zM599 564.00h2v12.20h-2zM601 559.40h2v4.60h-2zM608 576.20h2v5.70h-2zM617 583.70h2v8.50h-2zM621 576.20h2v13.20h-2zM630 595.00h2v4.70h-2zM634 593.10h2v2.80h-2zM643 607.20h2v2.80h-2zM645 606.20h2v1.00h-2zM648 605.30h2v1.00h-2zM652 607.20h2v2.80h-2zM654 606.20h2v1.00h-2zM656 604.40h2v1.80h-2zM659 597.80h2v6.60h-2zM663 595.90h2v2.80h-2zM665 595.00h2v1.00h-2zM668 592.20h2v2.80h-2zM670 588.40h2v3.80h-2zM676 597.80h2v2.80h-2zM679 594.40h2v5.60h-2zM681 593.40h2v1.00h-2zM694 612.20h2v1.00h-2zM699 621.50h2v3.80h-2zM703 620.60h2v1.90h-2zM705 618.70h2v1.90h-2zM710 587.80h2v31.90h-2zM712 510.30h2v77.50h-2zM716 532.80h2v8.40h-2zM725 552.50h2v17.50h-2zM734 588.70h2v20.70h-2zM736 579.40h2v8.40h-2zM747 592.50h2v10.30h-2zM749 591.60h2v1.00h-2zM761 598.10h2v12.20h-2zM763 594.40h2v3.70h-2zM765 585.00h2v9.40h-2zM776 594.40h2v15.90h-2zM778 571.90h2v22.50h-2zM780 566.20h2v5.70h-2zM783 557.50h2v8.70h-2zM787 545.00h2v13.80h-2zM792 545.00h2v3.10h-2zM796 551.30h2v13.70h-2zM807 586.40h2v1.30h-2zM809 551.90h2v34.50h-2zM814 543.90h2v18.70h-2z"/><path fill="#c65a5a" d="M-1 616.60h2v11.10h-2zM3 564.00h2v28.00h-2zM6 589.00h2v5.00h-2zM10 576.00h2v13.00h-2zM12 588.00h2v9.00h-2zM21 563.00h2v17.00h-2zM23 579.00h2v3.00h-2zM25 579.00h2v1.00h-2zM30 570.00h2v10.00h-2zM45 239.50h2v64.50h-2zM48 304.00h2v29.00h-2zM50 333.00h2v20.00h-2zM52 355.00h2v10.00h-2zM54 365.00h2v81.00h-2zM56 437.00h2v28.00h-2zM65 338.00h2v17.00h-2zM67 355.00h2v17.80h-2zM70 372.80h2v28.20h-2zM72 401.00h2v10.00h-2zM74 411.00h2v25.00h-2zM76 436.00h2v29.00h-2zM81 461.50h2v23.50h-2zM85 417.00h2v12.00h-2zM90 393.50h2v9.00h-2zM92 402.50h2v25.10h-2zM94 427.60h2v15.10h-2zM98 388.00h2v17.00h-2zM101 405.00h2v12.00h-2zM103 417.00h2v2.00h-2zM110 365.00h2v5.00h-2zM114 364.00h2v4.00h-2zM118 365.00h2v59.00h-2zM121 424.00h2v8.70h-2zM123 432.70h2v22.30h-2zM129 445.60h2v15.10h-2zM132 460.00h2v1.00h-2zM138 389.00h2v18.60h-2zM143 397.00h2v43.00h-2zM145 440.00h2v35.00h-2zM147 449.00h2v27.40h-2zM152 469.00h2v9.00h-2zM154 478.00h2v5.00h-2zM156 483.00h2v19.80h-2zM158 496.00h2v13.00h-2zM160 504.00h2v15.00h-2zM163 519.00h2v13.00h-2zM165 532.00h2v22.70h-2zM172 527.50h2v1.00h-2zM174 527.50h2v29.10h-2zM176 556.60h2v15.90h-2zM180 564.00h2v13.20h-2zM183 577.20h2v4.80h-2zM185 582.00h2v12.00h-2zM191 580.00h2v2.00h-2zM194 581.00h2v6.50h-2zM200 570.60h2v6.60h-2zM203 573.40h2v3.80h-2zM205 572.50h2v5.50h-2zM207 577.20h2v7.50h-2zM209 583.70h2v1.90h-2zM211 584.70h2v5.60h-2zM218 573.40h2v13.10h-2zM220 581.00h2v5.50h-2zM222 580.00h2v4.70h-2zM225 584.70h2v23.90h-2zM231 600.60h2v2.80h-2zM234 603.40h2v3.80h-2zM236 603.40h2v2.80h-2zM240 582.30h2v24.90h-2zM242 607.20h2v4.70h-2zM245 609.00h2v2.90h-2zM251 611.40h2v4.20h-2zM253 612.50h2v16.90h-2zM256 629.40h2v6.50h-2zM262 624.70h2v3.70h-2zM269 615.30h2v8.90h-2zM273 617.20h2v3.70h-2zM278 613.00h2v6.00h-2zM280 619.00h2v2.90h-2zM291 607.80h2v5.60h-2zM293 612.50h2v2.80h-2zM296 615.30h2v10.30h-2zM298 625.60h2v4.70h-2zM300 630.30h2v1.00h-2zM302 630.30h2v1.00h-2zM307 630.30h2v8.40h-2zM309 638.70h2v1.00h-2zM313 636.90h2v2.80h-2zM315 638.70h2v13.20h-2zM318 650.00h2v1.00h-2zM320 650.00h2v5.60h-2zM324 641.50h2v4.70h-2zM331 634.00h2v6.60h-2zM335 639.70h2v2.30h-2zM338 641.00h2v2.00h-2zM346 630.30h2v1.00h-2zM362 609.00h2v8.50h-2zM369 604.40h2v6.60h-2zM373 609.00h2v2.00h-2zM375 610.00h2v12.20h-2zM377 622.20h2v4.70h-2zM380 625.00h2v2.80h-2zM382 626.90h2v3.70h-2zM393 581.90h2v6.50h-2zM400 539.70h2v23.40h-2zM404 562.20h2v15.00h-2zM406 574.40h2v3.70h-2zM411 566.90h2v6.50h-2zM420 552.80h2v18.70h-2zM424 568.70h2v1.90h-2zM426 568.70h2v1.90h-2zM433 557.50h2v11.20h-2zM435 568.70h2v26.30h-2zM442 578.10h2v7.50h-2zM444 580.00h2v6.50h-2zM446 583.70h2v10.30h-2zM448 594.00h2v7.60h-2zM462 583.70h2v11.30h-2zM464 595.00h2v13.10h-2zM466 608.10h2v2.90h-2zM468 611.00h2v3.70h-2zM470 611.00h2v6.50h-2zM473 616.00h2v1.00h-2zM475 616.60h2v5.60h-2zM479 620.30h2v5.70h-2zM482 623.10h2v6.60h-2zM484 628.70h2v3.80h-2zM486 631.50h2v1.90h-2zM493 616.60h2v3.70h-2zM495 617.50h2v8.50h-2zM504 608.10h2v2.90h-2zM506 611.00h2v8.40h-2zM510 607.20h2v1.80h-2zM513 609.00h2v7.60h-2zM519 614.70h2v2.80h-2zM528 585.60h2v1.90h-2zM530 588.40h2v2.80h-2zM535 582.50h2v2.30h-2zM539 576.90h2v2.80h-2zM555 547.80h2v19.70h-2zM557 567.50h2v5.60h-2zM566 560.00h2v15.00h-2zM568 575.00h2v2.80h-2zM570 577.80h2v10.30h-2zM572 588.10h2v1.90h-2zM575 589.40h2v4.60h-2zM577 594.00h2v4.70h-2zM583 584.70h2v9.30h-2zM594 559.40h2v2.80h-2zM597 562.20h2v13.10h-2zM603 560.30h2v20.70h-2zM606 581.00h2v1.80h-2zM610 576.20h2v1.90h-2zM612 578.10h2v8.50h-2zM614 583.70h2v8.50h-2zM619 583.70h2v5.70h-2zM623 576.20h2v6.60h-2zM625 582.80h2v1.90h-2zM628 584.70h2v15.00h-2zM632 595.00h2v1.00h-2zM637 593.10h2v12.20h-2zM639 605.30h2v1.00h-2zM641 603.40h2v6.60h-2zM650 605.30h2v4.70h-2zM661 597.80h2v1.00h-2zM672 588.40h2v6.60h-2zM674 595.00h2v5.60h-2zM683 593.40h2v7.50h-2zM685 600.90h2v1.00h-2zM687 599.00h2v2.90h-2zM690 601.00h2v11.20h-2zM692 611.20h2v3.80h-2zM696 612.20h2v13.10h-2zM701 621.00h2v1.50h-2zM707 618.70h2v1.90h-2zM714 510.30h2v30.90h-2zM718 532.80h2v21.60h-2zM721 554.40h2v1.60h-2zM723 550.60h2v18.40h-2zM727 552.50h2v8.10h-2zM730 560.60h2v46.90h-2zM732 608.00h2v1.40h-2zM738 578.40h2v9.40h-2zM741 587.80h2v8.40h-2zM743 595.30h2v4.70h-2zM745 600.00h2v3.70h-2zM752 590.60h2v1.00h-2zM754 592.50h2v8.40h-2zM756 600.90h2v6.60h-2zM758 606.50h2v4.70h-2zM767 582.20h2v9.40h-2zM769 592.50h2v8.40h-2zM772 599.00h2v1.00h-2zM774 599.00h2v12.20h-2zM785 557.50h2v1.30h-2zM789 545.00h2v3.10h-2zM794 545.00h2v20.00h-2zM798 551.30h2v6.20h-2zM800 557.50h2v16.40h-2zM803 573.90h2v6.90h-2zM805 580.80h2v6.90h-2zM811 551.30h2v11.30h-2z"/><line x1="0" y1="545" x2="1172" y2="545" stroke="#8b9896" stroke-width="1" stroke-dasharray="1 1" opacity="0.6"/></svg>
<div class="pl" style="top:22.4px">0.029000</div>
<div class="pl" style="top:47.0px">0.028000</div>
<div class="pl" style="top:71.7px">0.027000</div>
<div class="pl" style="top:96.4px">0.026000</div>
<div class="pl" style="top:121.0px">0.025000</div>
<div class="pl" style="top:145.7px">0.024000</div>
<div class="pl" style="top:170.4px">0.023000</div>
<div class="pl" style="top:195.0px">0.022000</div>
<div class="pl" style="top:219.7px">0.021000</div>
<div class="pl" style="top:244.4px">0.020000</div>
<div class="pl" style="top:269.0px">0.019000</div>
<div class="pl" style="top:293.7px">0.018000</div>
<div class="pl" style="top:318.4px">0.017000</div>
<div class="pl" style="top:343.0px">0.016000</div>
<div class="pl" style="top:367.7px">0.015000</div>
<div class="pl" style="top:392.4px">0.014000</div>
<div class="pl" style="top:417.0px">0.013000</div>
<div class="pl" style="top:441.7px">0.012000</div>
<div class="pl" style="top:466.4px">0.011000</div>
<div class="pl" style="top:491.0px">0.010000</div>
<div class="pl" style="top:515.7px">0.009000</div>
<div class="pl" style="top:540.4px">0.008000</div>
<div class="pl" style="top:565.0px">0.007000</div>
<div class="pl" style="top:589.7px">0.006000</div>
<div class="pl" style="top:614.4px">0.005000</div>
<div class="pl" style="top:639.0px">0.004000</div>
<div class="pl" style="top:663.7px">0.003000</div>
<div class="pl" style="top:688.4px">0.002000</div>
<div class="pl" style="top:713.0px">0.001000</div>
<div class="pl" style="top:737.7px">−0.000000</div>
<div class="pl" style="top:762.4px">−0.001000</div>
<div class="tl" style="left:37.5px;">Dec</div>
<div class="tl" style="left:106.0px;font-weight:bold">2025</div>
<div class="tl" style="left:174.7px;">Feb</div>
<div class="tl" style="left:236.5px;">Mar</div>
<div class="tl" style="left:305.0px;">Apr</div>
<div class="tl" style="left:371.6px;">May</div>
<div class="tl" style="left:440.6px;">Jun</div>
<div class="tl" style="left:507.0px;">Jul</div>
<div class="tl" style="left:575.6px;">Aug</div>
<div class="tl" style="left:644.4px;">Sep</div>
<div class="tl" style="left:711.0px;">Oct</div>
<div class="tl" style="left:779.7px;">Nov</div>
<div class="tl" style="left:846.0px;">Dec</div>
<div class="tl" style="left:914.7px;font-weight:bold">2026</div>
<div class="tl" style="left:982.8px;">Feb</div>
<div class="tl" style="left:1045.3px;">Mar</div>
<div class="tl" style="left:1113.5px;">Apr</div>
<div class="tl" style="left:1180.5px;">May</div>
<svg class="a" style="left:0;top:0" width="20" height="16" viewBox="0 0 20 16"><path d="M8.9 4.3 A2.9 2.9 0 1 1 13.0 8.6" fill="none" stroke="#367a6f" stroke-width="2.3"/><circle cx="7.2" cy="9.8" r="3.8" fill="#4ba5d8"/><path d="M6.2 8.2h2.4l-1.1 3.6z" fill="#a8daf5" opacity="0.8"/></svg>
<div class="a" style="left:18.3px;top:3.1px;font-size:10.3px;line-height:12px;color:#131722;-webkit-text-stroke:0.2px #131722">XVGUSDT Perpetual Contract · 1D · Bybit</div>
<div class="a" style="left:217.5px;top:2.3px;width:11px;height:11px;border-radius:50%;background:#d7f0ea"></div>
<div class="a" style="left:220px;top:4.8px;width:6px;height:6px;border-radius:50%;background:#3a8f7e"></div>
<div class="a" style="left:234.4px;top:3.2px;font-size:8.3px;line-height:10px;color:#2a2e39;font-weight:bold">O</div>
<div class="a" style="left:240.9px;top:3.2px;font-size:8.3px;line-height:10px;color:#5aa797;">0.007313</div>
<div class="a" style="left:280.3px;top:3.2px;font-size:8.3px;line-height:10px;color:#2a2e39;font-weight:bold">H</div>
<div class="a" style="left:286.3px;top:3.2px;font-size:8.3px;line-height:10px;color:#5aa797;">0.008092</div>
<div class="a" style="left:326.8px;top:3.2px;font-size:8.3px;line-height:10px;color:#2a2e39;font-weight:bold">L</div>
<div class="a" style="left:331.9px;top:3.2px;font-size:8.3px;line-height:10px;color:#5aa797;">0.007291</div>
<div class="a" style="left:371.0px;top:3.2px;font-size:8.3px;line-height:10px;color:#2a2e39;font-weight:bold">C</div>
<div class="a" style="left:376.4px;top:3.2px;font-size:8.3px;line-height:10px;color:#5aa797;">0.008031</div>
<div class="a" style="left:416.3px;top:3.2px;font-size:8.3px;line-height:10px;color:#5aa797;">+0.000718</div>
<div class="a" style="left:459.6px;top:3.2px;font-size:8.3px;line-height:10px;color:#5aa797;">(+9.82%)</div>
<div class="a" style="left:2.3px;top:19px;width:51px;height:22.5px;border:1px solid #e9a3a3;border-radius:4px"></div>
<div class="a" style="left:2.3px;top:20px;width:51px;text-align:center;font-size:8.5px;line-height:10px;color:#e07070;letter-spacing:0.1px;-webkit-text-stroke:0.15px #e07070">0.008026</div>
<div class="a" style="left:2.3px;top:29.5px;width:51px;text-align:center;font-size:7.6px;line-height:10px;color:#e07070;letter-spacing:-0.5px">SELL</div>
<div class="a" style="left:59px;top:25.5px;font-size:7px;line-height:9px;color:#2a2e39;letter-spacing:-0.3px">0.000004</div>
<div class="a" style="left:91.4px;top:19px;width:51px;height:22.5px;border:1px solid #a6abea;border-radius:4px"></div>
<div class="a" style="left:91.4px;top:20px;width:51px;text-align:center;font-size:8.5px;line-height:10px;color:#6c76de;letter-spacing:0.1px;-webkit-text-stroke:0.15px #6c76de">0.008030</div>
<div class="a" style="left:91.4px;top:29.5px;width:51px;text-align:center;font-size:7.6px;line-height:10px;color:#6c76de;letter-spacing:-0.5px">BUY</div>
<div class="a" style="left:3px;top:46.5px;width:20.5px;height:14px;border:1px solid #e3e5ea;border-radius:2px"></div>
<svg class="a" style="left:7px;top:50px" width="7" height="6" viewBox="0 0 7 6"><path d="M1.3 1.8 L3.5 4 L5.7 1.8" fill="none" stroke="#2a2e39" stroke-width="1.2"/></svg>
<div class="a" style="left:15.8px;top:48.5px;font-size:9px;line-height:10px;color:#2a2e39">7</div>
<div class="a" style="left:1227px;top:1px;width:51px;height:15.5px;border:1px solid #eceef2;border-radius:2px"></div>
<div class="a" style="left:1230px;top:4px;font-size:8px;line-height:10px;color:#2a2e39;letter-spacing:-0.3px">USDT</div>
<svg class="a" style="left:1271px;top:6px" width="6" height="5" viewBox="0 0 6 5"><path d="M1 1.3 L3 3.3 L5 1.3" fill="none" stroke="#2a2e39" stroke-width="1.2"/></svg>
<div class="a" style="left:1225px;top:524px;width:48px;height:13.5px;background:#545456;border-radius:1px 1px 0 0"></div>
<div class="a" style="left:1231.5px;top:527px;font-size:10px;letter-spacing:-0.55px;line-height:10px;color:#f2f2f2;-webkit-text-stroke:0.25px #f2f2f2">0.008066</div>
<div class="a" style="left:1225px;top:537.5px;width:48px;height:25px;background:#4a9884;border-radius:0 0 1px 1px"></div>
<div class="a" style="left:1231.5px;top:541px;font-size:10px;letter-spacing:-0.55px;line-height:10px;color:#e4f6f0;-webkit-text-stroke:0.25px #e4f6f0">0.008031</div>
<div class="a" style="left:1231.5px;top:552px;font-size:10px;letter-spacing:-0.55px;line-height:10px;color:#e4f6f0;-webkit-text-stroke:0.25px #e4f6f0">21:42:19</div>
<div class="a" style="left:1172px;top:538px;width:53px;height:13.5px;background:#4a9884;border-radius:1px 0 0 1px"></div>
<div class="a" style="left:1174.9px;top:540px;font-size:8.6px;letter-spacing:-0.3px;line-height:10px;color:#e4f6f0;-webkit-text-stroke:0.3px #e4f6f0">XVGUSDT.P</div>
<div class="a" style="left:1225px;top:594px;width:48px;height:13.5px;background:#eda533;border-radius:1px"></div>
<div class="a" style="left:1231.5px;top:596.5px;font-size:10px;letter-spacing:-0.55px;line-height:10px;color:#1b1b1b;-webkit-text-stroke:0.25px #1b1b1b">0.005774</div>
<svg class="a" style="left:808px;top:537px" width="14" height="9" viewBox="0 0 14 9"><path d="M3.2 4 L5.5 6.3 L10.5 4.3" fill="none" stroke="#787b86" stroke-width="1.1" opacity="0.8"/></svg>
<svg class="a" style="left:0;top:765px" width="30" height="22" viewBox="0 0 30 22"><path d="M5.6 7.2H13.4V17.5H10V11.3H5.6z" fill="#131722"/><circle cx="17" cy="9.3" r="1.9" fill="#131722"/><path d="M21 7.2H25.6L21.9 17.5H17.4z" fill="#131722"/></svg>
<svg class="a" style="left:1246px;top:796px" width="14" height="14" viewBox="0 0 14 14"><path d="M4.7 3.3H9.3L11.6 7.4L9.3 11.5H4.7L2.4 7.4z" fill="none" stroke="#4a4d57" stroke-width="1" stroke-linejoin="round"/><circle cx="7" cy="7.4" r="1.5" fill="none" stroke="#4a4d57" stroke-width="1"/></svg>
</body></html>
